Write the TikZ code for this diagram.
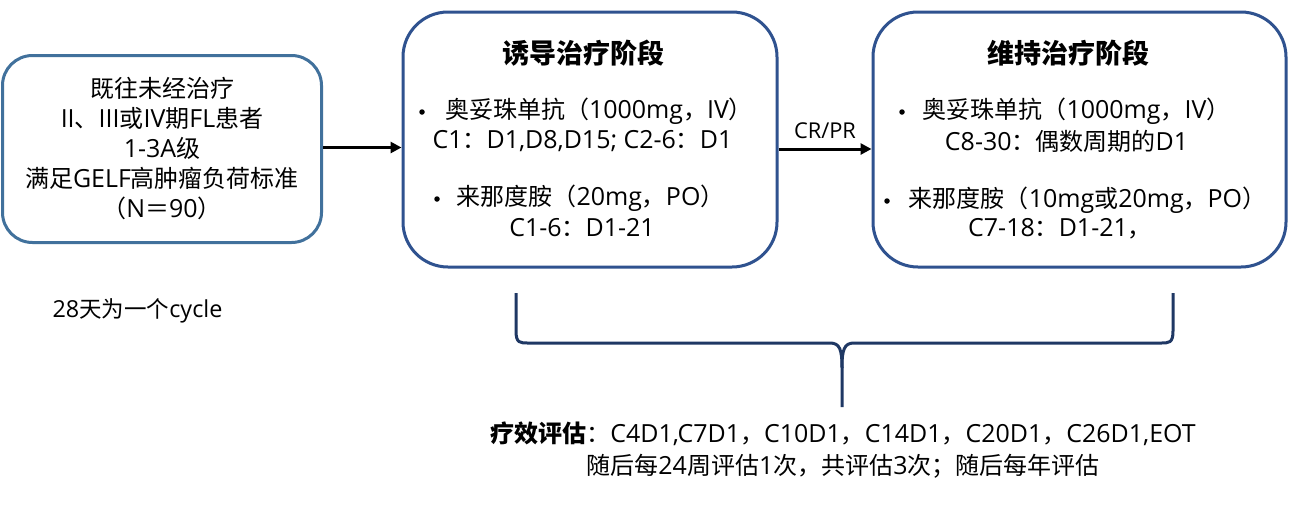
\documentclass[tikz,border=0pt]{standalone}
\usepackage{fontspec}
\setmainfont{Noto Sans CJK SC}
\newfontfamily\latf{Open Sans}[Scale=1.04]
\newcommand\la[1]{{\latf #1}}
\usetikzlibrary{arrows.meta}
\definecolor{boxA}{RGB}{65,113,156}
\definecolor{boxB}{RGB}{47,82,143}
\definecolor{brace}{RGB}{31,56,100}
\tikzset{
  startbox/.style={draw=boxA, line width=3pt, rounded corners=30pt, fill=white,
    minimum width=319pt, minimum height=187pt, align=center, inner sep=0pt,
    font=\fontsize{24}{30}\selectfont},
  phasebox/.style={draw=boxB, line width=3pt, rounded corners=45pt, fill=white,
    minimum height=255pt, inner sep=0pt},
  title/.style={font=\fontsize{27}{30}\selectfont\bfseries, inner sep=0pt},
  txt/.style={font=\fontsize{24}{28}\selectfont, inner sep=0pt},
  bul/.style={circle, fill=black, inner sep=0pt, minimum size=5.5pt},
  small/.style={font=\fontsize{21}{24}\selectfont, inner sep=0pt},
  arr/.style={line width=3pt, -{Triangle[length=11pt,width=11pt]}},
  bracestyle/.style={draw=brace, line width=3pt, line join=round}
}
\begin{document}
\begin{tikzpicture}[x=1pt,y=-1pt]
\useasboundingbox[fill=white] (0,0) rectangle (1291,504);

% boxes
\node[startbox] (start) at (162,149)
  {既往未经治疗\\\la{II}、\la{III}或\la{IV}期\la{FL}患者\\\la{1-3A}级\\满足\la{GELF}高肿瘤负荷标准\\（\la{N}＝\la{90}）};
\node[phasebox, minimum width=374pt] (ind) at (590,139.5) {};
\node[phasebox, minimum width=413pt] (mnt) at (1079.5,139.5) {};

% induction content
\node[title] (indt) at (583,53) {诱导治疗阶段};
\node[bul] (ib1) at (422,112) {};
\node[txt] (i1) at (599,111) {奥妥珠单抗（\la{1000mg}，\la{IV}）};
\node[txt] (i2) at (582.5,141) {\la{C1}：\la{D1,D8,D15; C2-6}：\la{D1}};
\node[bul] (ib2) at (437,199) {};
\node[txt] (i3) at (590.5,198) {来那度胺（\la{20mg}，\la{PO}）};
\node[txt] (i4) at (582,228) {\la{C1-6}：\la{D1-21}};

% maintenance content
\node[title] (mntt) at (1068,53) {维持治疗阶段};
\node[bul] (mb1) at (902,112) {};
\node[txt] (m1) at (1076.5,111) {奥妥珠单抗（\la{1000mg}，\la{IV}）};
\node[txt] (m2) at (1066.5,141) {\la{C8-30}：偶数周期的\la{D1}};
\node[bul] (mb2) at (887,201) {};
\node[txt] (m3) at (1087.5,200) {来那度胺（\la{10mg}或\la{20mg}，\la{PO}）};
\node[txt] (m4) at (1060,229) {\la{C7-18}：\la{D1-21}，};

% arrows
\draw[arr] ([yshift=1.5pt]start.east) -- ([yshift=1.5pt]start.east -| ind.west);
\draw[arr] ([yshift=-9.5pt]ind.east) -- ([yshift=-9.5pt]mnt.west)
  node[small, midway, above=9pt] (crpr) {\la{CR/PR}};

% cycle note
\node[txt, font=\fontsize{22.5}{26}\selectfont] (cyc) at (137.5,311) {\la{28}天为一个\la{cycle}};

% brace
\coordinate (bl) at (516,293);
\coordinate (br) at (1173,293);
\coordinate (bt) at (842,407);
\draw[bracestyle] (bl) -- (516,331) .. controls (516,343) and (520,343) .. (528,343)
  -- (830,343) .. controls (840,343) and (842,350) .. (842,368) -- (bt);
\draw[bracestyle] (br) -- (1173,331) .. controls (1173,343) and (1169,343) .. (1161,343)
  -- (854,343) .. controls (844,343) and (842,350) .. (842,368);

% evaluation
\node[txt, align=center, font=\fontsize{24}{32}\selectfont] (eval) at (843,450)
  {\textbf{疗效评估}：\la{C4D1,C7D1}，\la{C10D1}，\la{C14D1}，\la{C20D1}，\la{C26D1,EOT}\\随后每\la{24}周评估\la{1}次，共评估\la{3}次；随后每年评估};
\end{tikzpicture}
\end{document}
